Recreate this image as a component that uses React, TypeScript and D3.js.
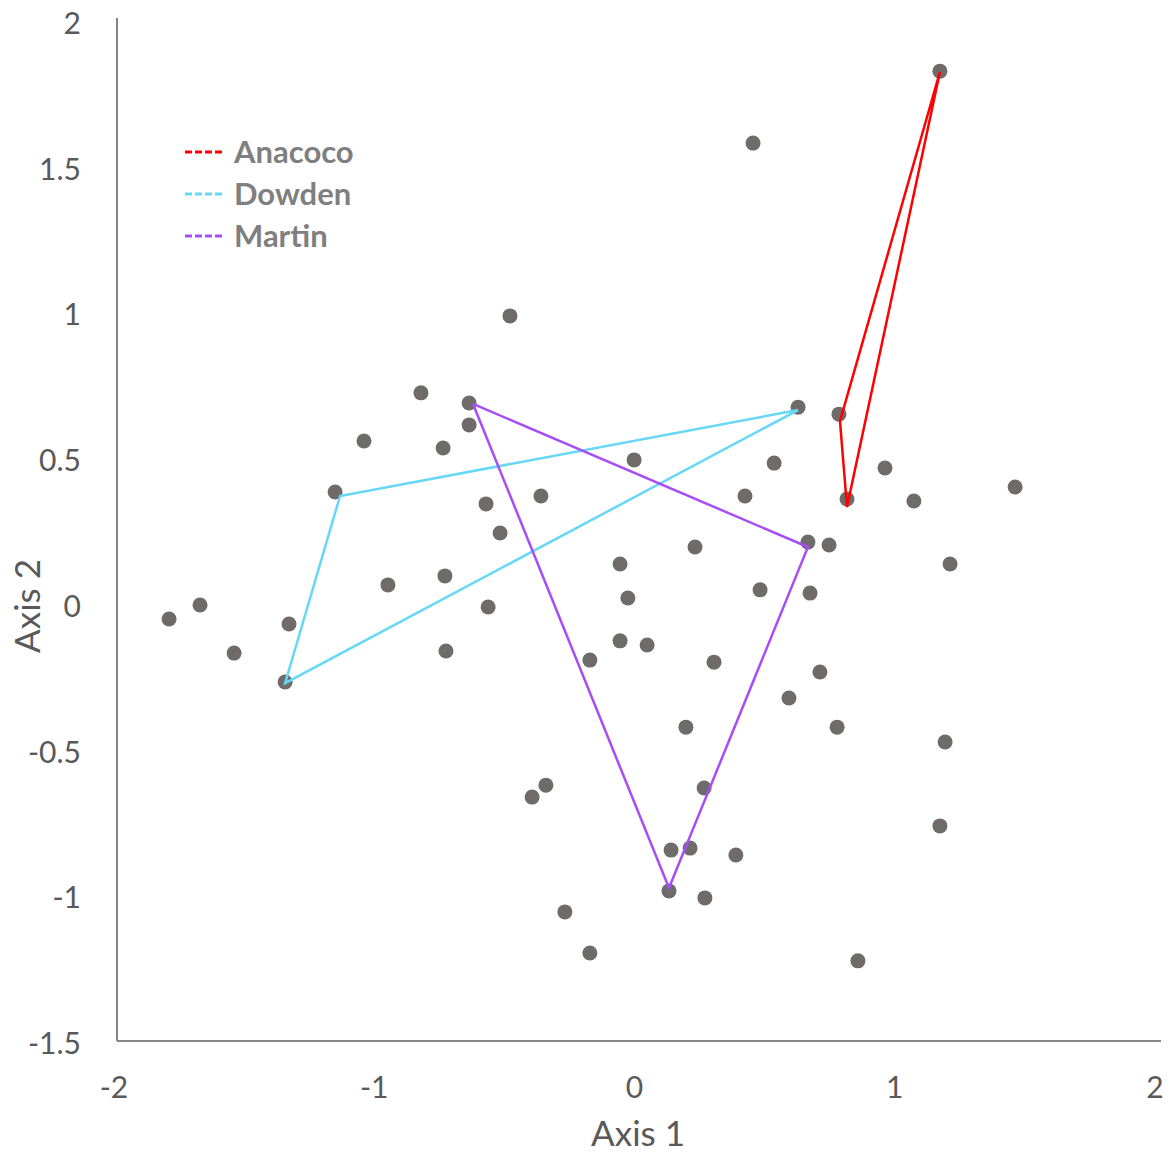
import * as d3 from "d3";

// ordination scores
const axis1 = [
  1.162, 0.444, -0.49, -0.832, -0.647, -0.647, -1.051, -0.747, -1.162, -0.013,
  0.617, 0.774, 0.525, 0.951, 0.413, 0.805, 1.062, 1.451, -0.371, -0.582,
  -0.528, 0.655, 0.736, 0.221, 1.201, -0.067, -0.959, -0.74, -0.037, 0.471,
  0.663, -1.8, -1.681, -1.339, -1.55, -0.574, -0.736, -1.354, -0.067, 0.037,
  -0.183, 0.294, 0.701, 0.582, 0.186, 0.767, 1.182, -0.352, -0.405, 0.256,
  1.162, 0.129, 0.202, 0.378, 0.121, 0.259, -0.279, -0.183, 0.847,
];
const axis2 = [
  1.828, 1.581, 0.988, 0.724, 0.689, 0.614, 0.559, 0.535, 0.384, 0.494,
  0.675, 0.651, 0.483, 0.466, 0.37, 0.36, 0.353, 0.401, 0.37, 0.343,
  0.243, 0.212, 0.202, 0.195, 0.137, 0.137, 0.065, 0.096, 0.02, 0.048,
  0.037, -0.052, -0.004, -0.069, -0.169, -0.011, -0.162, -0.268, -0.127, -0.141,
  -0.193, -0.2, -0.234, -0.323, -0.423, -0.423, -0.474, -0.622, -0.663, -0.632,
  -0.762, -0.845, -0.838, -0.862, -0.985, -1.009, -1.057, -1.198, -1.225,
];

// site outlines (closed)
const anacocoX = [1.162, 0.778, 0.805, 1.162];
const anacocoY = [1.825, 0.627, 0.332, 1.825];
const dowdenX = [0.617, -1.143, -1.354, 0.617];
const dowdenY = [0.665, 0.37, -0.272, 0.665];
const martinX = [-0.632, 0.655, 0.121, -0.632];
const martinY = [0.686, 0.195, -0.975, 0.686];

const sites = [
  { name: "Anacoco", color: "#ff0000", xs: anacocoX, ys: anacocoY },
  { name: "Dowden", color: "#66d8f6", xs: dowdenX, ys: dowdenY },
  { name: "Martin", color: "#a64df7", xs: martinX, ys: martinY },
];

const xTicks = [-2, -1, 0, 1, 2];
const yTicks = [2, 1.5, 1, 0.5, 0, -0.5, -1, -1.5];

const W = 1174;
const H = 1154;
const font = "Lato, 'Open Sans', sans-serif";

export default function App() {
  const x = d3.scaleLinear().domain([-2, 2]).range([117, 1158]);
  const y = d3.scaleLinear().domain([-1.5, 2]).range([1041, 21]);

  return (
    <svg
      width={W}
      height={H}
      style={{ position: "absolute", left: 0, top: 0, background: "#fff" }}
    >
      {/* axes */}
      <line x1={x(-2)} x2={x(-2)} y1={y(2) - 3} y2={y(-1.5)} stroke="#868686" strokeWidth={2} />
      <line x1={x(-2)} x2={x(2) + 3} y1={y(-1.5)} y2={y(-1.5)} stroke="#868686" strokeWidth={2} />

      {yTicks.map((t) => (
        <text
          key={"y" + t}
          x={81}
          y={y(t) + 1}
          textAnchor="end"
          dominantBaseline="central"
          fontFamily={font}
          fontSize={30}
          fill="#595959"
        >
          {t}
        </text>
      ))}
      {xTicks.map((t) => (
        <text
          key={"x" + t}
          x={x(t) - 3}
          y={1086}
          textAnchor="middle"
          dominantBaseline="central"
          fontFamily={font}
          fontSize={30}
          fill="#595959"
        >
          {t}
        </text>
      ))}

      <text x={638} y={1132} textAnchor="middle" dominantBaseline="central" fontFamily={font} fontSize={35} fill="#595959">
        Axis 1
      </text>
      <text
        transform="translate(26,606) rotate(-90)"
        textAnchor="middle"
        dominantBaseline="central"
        fontFamily={font}
        fontSize={35}
        fill="#595959"
      >
        Axis 2
      </text>

      {/* points */}
      {axis1.map((v, i) => (
        <circle key={i} cx={x(v)} cy={y(axis2[i])} r={7.5} fill="#6f6b6b" />
      ))}

      {/* outlines */}
      {sites.map((s) => {
        const path = d3
          .line<number>()
          .x((_, i) => x(s.xs[i]))
          .y((_, i) => y(s.ys[i]))(s.xs);
        return <path key={s.name} d={path || ""} fill="none" stroke={s.color} strokeWidth={2.5} />;
      })}

      {/* legend */}
      {sites.map((s, i) => {
        const ly = 152 + i * 42;
        return (
          <g key={"lg" + s.name}>
            <line x1={185} x2={225} y1={ly} y2={ly} stroke={s.color} strokeWidth={3} strokeDasharray="7,3" />
            <text
              x={234}
              y={ly - 1}
              dominantBaseline="central"
              fontFamily={font}
              fontSize={31}
              fontWeight="bold"
              fill="#7f7f7f"
            >
              {s.name}
            </text>
          </g>
        );
      })}
    </svg>
  );
}
